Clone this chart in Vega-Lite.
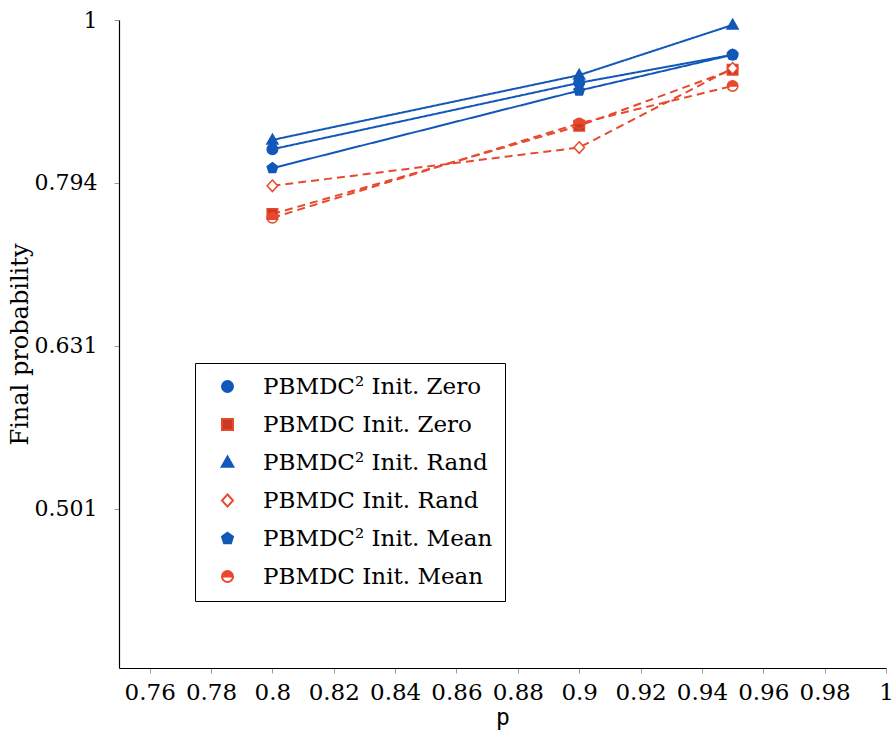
{
  "$schema": "https://vega.github.io/schema/vega-lite/v6.json",
  "width": 767,
  "height": 648,
  "autosize": {"type": "none"},
  "padding": {"left": 119, "top": 20, "right": 8, "bottom": 70},
  "config": {
    "view": {"stroke": null},
    "font": "DejaVu Serif",
    "legend": {
      "orient": "none",
      "legendX": 76,
      "legendY": 343,
      "padding": 12,
      "rowPadding": 14,
      "symbolOffset": 9,
      "labelOffset": 24,
      "symbolSize": 121,
      "symbolStrokeWidth": 2,
      "labelFont": "DejaVu Serif",
      "labelFontSize": 23,
      "labelColor": "#000000",
      "labelLimit": 400,
      "fillColor": "#ffffff",
      "strokeColor": "#000000",
      "cornerRadius": 0
    }
  },
  "data": {
    "values": [
      {"p": 0.8, "prob": 0.833, "series": "PBMDC² Init. Zero"},
      {"p": 0.9, "prob": 0.915, "series": "PBMDC² Init. Zero"},
      {"p": 0.95, "prob": 0.952, "series": "PBMDC² Init. Zero"},
      {"p": 0.8, "prob": 0.760, "series": "PBMDC Init. Zero"},
      {"p": 0.9, "prob": 0.861, "series": "PBMDC Init. Zero"},
      {"p": 0.95, "prob": 0.932, "series": "PBMDC Init. Zero"},
      {"p": 0.8, "prob": 0.844, "series": "PBMDC² Init. Rand"},
      {"p": 0.9, "prob": 0.925, "series": "PBMDC² Init. Rand"},
      {"p": 0.95, "prob": 0.993, "series": "PBMDC² Init. Rand"},
      {"p": 0.8, "prob": 0.791, "series": "PBMDC Init. Rand"},
      {"p": 0.9, "prob": 0.835, "series": "PBMDC Init. Rand"},
      {"p": 0.95, "prob": 0.934, "series": "PBMDC Init. Rand"},
      {"p": 0.8, "prob": 0.811, "series": "PBMDC² Init. Mean"},
      {"p": 0.9, "prob": 0.905, "series": "PBMDC² Init. Mean"},
      {"p": 0.95, "prob": 0.952, "series": "PBMDC² Init. Mean"},
      {"p": 0.8, "prob": 0.756, "series": "PBMDC Init. Mean"},
      {"p": 0.9, "prob": 0.864, "series": "PBMDC Init. Mean"},
      {"p": 0.95, "prob": 0.911, "series": "PBMDC Init. Mean"}
    ]
  },
  "encoding": {
    "x": {
      "field": "p",
      "type": "quantitative",
      "scale": {"domain": [0.75, 1], "nice": false, "zero": false},
      "axis": {
        "values": [0.76, 0.78, 0.8, 0.82, 0.84, 0.86, 0.88, 0.9, 0.92, 0.94, 0.96, 0.98, 1],
        "format": "~g",
        "grid": false,
        "domainColor": "#000000",
        "domainWidth": 1.2,
        "tickColor": "#999999",
        "tickSize": 5,
        "labelFont": "DejaVu Serif",
        "labelFontSize": 23,
        "labelColor": "#000000",
        "labelPadding": 8,
        "labelFlush": false,
        "labelOverlap": false,
        "title": "p",
        "titleFont": "DejaVu Sans Mono",
        "titleFontSize": 23,
        "titleFontWeight": "normal",
        "titleColor": "#000000",
        "titlePadding": 2
      }
    },
    "y": {
      "field": "prob",
      "type": "quantitative",
      "scale": {"type": "log", "domain": [0.4, 1], "nice": false},
      "axis": {
        "values": [0.501187, 0.630957, 0.794328, 1],
        "format": ".3~f",
        "grid": false,
        "domainColor": "#000000",
        "domainWidth": 1.2,
        "tickColor": "#999999",
        "tickSize": 5,
        "labelFont": "DejaVu Serif",
        "labelFontSize": 22,
        "labelColor": "#000000",
        "labelPadding": 17,
        "labelFlush": false,
        "labelOverlap": false,
        "title": "Final probability",
        "titleFont": "DejaVu Serif",
        "titleFontSize": 24,
        "titleFontWeight": "normal",
        "titleColor": "#000000",
        "titlePadding": 2
      }
    }
  },
  "layer": [
    {
      "mark": {"type": "line", "strokeWidth": 2},
      "encoding": {
        "color": {
          "field": "series",
          "type": "nominal",
          "scale": {
            "domain": ["PBMDC Init. Mean", "PBMDC² Init. Mean", "PBMDC Init. Rand", "PBMDC² Init. Rand", "PBMDC Init. Zero", "PBMDC² Init. Zero"],
            "range": ["#e8492e", "#1158b8", "#e8492e", "#1158b8", "#e8492e", "#1158b8"]
          },
          "legend": null
        },
        "strokeDash": {
          "field": "series",
          "type": "nominal",
          "scale": {
            "domain": ["PBMDC Init. Mean", "PBMDC² Init. Mean", "PBMDC Init. Rand", "PBMDC² Init. Rand", "PBMDC Init. Zero", "PBMDC² Init. Zero"],
            "range": [[8, 5], [1, 0], [8, 5], [1, 0], [8, 5], [1, 0]]
          },
          "legend": null
        }
      }
    },
    {
      "mark": {"type": "point", "size": 110, "strokeWidth": 1.5, "opacity": 1},
      "encoding": {
        "stroke": {
          "field": "series",
          "type": "nominal",
          "scale": {
            "domain": ["PBMDC² Init. Zero", "PBMDC Init. Zero", "PBMDC² Init. Rand", "PBMDC Init. Rand", "PBMDC² Init. Mean", "PBMDC Init. Mean"],
            "range": ["#1158b8", "#e8492e", "#1158b8", "#e8492e", "#1158b8", "#e8492e"]
          },
          "legend": {
            "title": null,
            "encode": {
              "symbols": {"shape": {"value": {"expr": "['M-4.1,0H4.1M-1,0A1,1 0 1,1 1,0A1,1 0 1,1 -1,0Z', 'M-4.1,0H-2.7M2.7,0H4.1M-0.9,-0.9H0.9V0.9H-0.9Z', 'M-4.1,0H4.1M0,-1.1L1.05,0.75L-1.05,0.75Z', 'M-4.1,0H-2.7M2.7,0H4.1M0,-1.1L1,0L0,1.1L-1,0Z', 'M-4.1,0H4.1M0,-1.05L1,-0.32L0.62,0.85L-0.62,0.85L-1,-0.32Z', 'M-4.1,0H-2.7M2.7,0H4.1M-1,0A1,1 0 0,1 1,0ZM-1,0A1,1 0 0,0 1,0A1,1 0 0,1 -1,0'][datum.index]"}}}
            }
          }
        },
        "fill": {
          "field": "series",
          "type": "nominal",
          "scale": {
            "domain": ["PBMDC² Init. Zero", "PBMDC Init. Zero", "PBMDC² Init. Rand", "PBMDC Init. Rand", "PBMDC² Init. Mean", "PBMDC Init. Mean"],
            "range": ["#1158b8", "#c83a22", "#1158b8", "#ffffff", "#1158b8", "#e8492e"]
          },
          "legend": {
            "title": null,
            "encode": {
              "symbols": {"shape": {"value": {"expr": "['M-4.1,0H4.1M-1,0A1,1 0 1,1 1,0A1,1 0 1,1 -1,0Z', 'M-4.1,0H-2.7M2.7,0H4.1M-0.9,-0.9H0.9V0.9H-0.9Z', 'M-4.1,0H4.1M0,-1.1L1.05,0.75L-1.05,0.75Z', 'M-4.1,0H-2.7M2.7,0H4.1M0,-1.1L1,0L0,1.1L-1,0Z', 'M-4.1,0H4.1M0,-1.05L1,-0.32L0.62,0.85L-0.62,0.85L-1,-0.32Z', 'M-4.1,0H-2.7M2.7,0H4.1M-1,0A1,1 0 0,1 1,0ZM-1,0A1,1 0 0,0 1,0A1,1 0 0,1 -1,0'][datum.index]"}}}
            }
          }
        },
        "shape": {
          "field": "series",
          "type": "nominal",
          "scale": {
            "domain": ["PBMDC² Init. Zero", "PBMDC Init. Zero", "PBMDC² Init. Rand", "PBMDC Init. Rand", "PBMDC² Init. Mean", "PBMDC Init. Mean"],
            "range": ["circle", "square", "M0,-1.1L1.05,0.75L-1.05,0.75Z", "M0,-1.1L1,0L0,1.1L-1,0Z", "M0,-1.05L1,-0.32L0.62,0.85L-0.62,0.85L-1,-0.32Z", "M-1,0A1,1 0 0,1 1,0ZM-1,0A1,1 0 0,0 1,0A1,1 0 0,1 -1,0"]
          },
          "legend": {
            "title": null,
            "encode": {
              "symbols": {"shape": {"value": {"expr": "['M-4.1,0H4.1M-1,0A1,1 0 1,1 1,0A1,1 0 1,1 -1,0Z', 'M-4.1,0H-2.7M2.7,0H4.1M-0.9,-0.9H0.9V0.9H-0.9Z', 'M-4.1,0H4.1M0,-1.1L1.05,0.75L-1.05,0.75Z', 'M-4.1,0H-2.7M2.7,0H4.1M0,-1.1L1,0L0,1.1L-1,0Z', 'M-4.1,0H4.1M0,-1.05L1,-0.32L0.62,0.85L-0.62,0.85L-1,-0.32Z', 'M-4.1,0H-2.7M2.7,0H4.1M-1,0A1,1 0 0,1 1,0ZM-1,0A1,1 0 0,0 1,0A1,1 0 0,1 -1,0'][datum.index]"}}}
            }
          }
        }
      }
    }
  ]
}
